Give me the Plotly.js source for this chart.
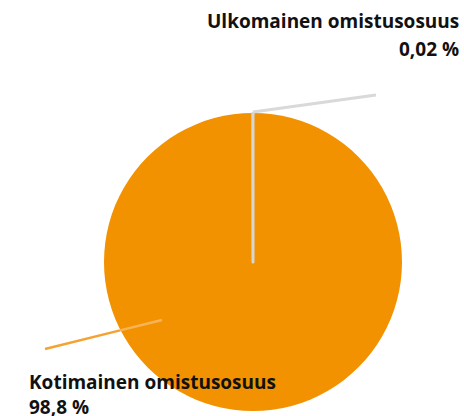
<!DOCTYPE html>
<html><head><meta charset="utf-8">
<script src="https://cdn.plot.ly/plotly-3.0.1.min.js"></script>
<style>html,body{margin:0;padding:0;background:#fff}#chart{width:464px;height:416px}</style>
</head><body><div id="chart"></div>
<script>
const categories = ['Kotimainen omistusosuus', 'Ulkomainen omistusosuus'];
const shares = [98.8, 0.02];
const valueLabels = ['98,8 %', '0,02 %'];
const sliceColors = ['#f39200', '#d9d9d9'];

const W = 464, H = 416;
const px = x => x / W, py = y => 1 - y / H;

const trace = {
  type: 'pie',
  labels: categories,
  values: shares,
  sort: false,
  direction: 'counterclockwise',
  rotation: 0,
  textinfo: 'none',
  hoverinfo: 'label+percent',
  marker: {colors: sliceColors, line: {color: ['rgba(0,0,0,0)', '#d6d6d6'], width: [0, 3]}},
  domain: {x: [px(104), px(402)], y: [py(411), py(113)]},
  showlegend: false
};

const font = {family: 'Open Sans, sans-serif', size: 19, color: '#111'};
const ann = (txt, x, y, anchor) => ({text: '<b>' + txt + '</b>', xref: 'paper', yref: 'paper',
  x: px(x), y: py(y), xanchor: anchor, yanchor: 'middle', showarrow: false, font: font});

const layout = {
  width: W, height: H,
  margin: {l: 0, r: 0, t: 0, b: 0},
  paper_bgcolor: '#fff',
  showlegend: false,
  annotations: [
    ann(categories[1], 461, 21, 'right'),
    ann(valueLabels[1], 461, 49, 'right'),
    ann(categories[0], 27, 382, 'left'),
    ann(valueLabels[0], 27, 407, 'left')
  ],
  shapes: [
    {type: 'line', xref: 'paper', yref: 'paper', x0: px(253), y0: py(112), x1: px(376), y1: py(95), line: {color: '#d9d9d9', width: 3}},
    {type: 'line', xref: 'paper', yref: 'paper', x0: px(120), y0: py(330.4), x1: px(45), y1: py(349), line: {color: '#f5a233', width: 2.5}},
    {type: 'line', xref: 'paper', yref: 'paper', x0: px(162), y0: py(320), x1: px(120), y1: py(330.4), line: {color: '#f7b35a', width: 2.5}}
  ]
};

Plotly.newPlot('chart', [trace], layout, {displayModeBar: false, staticPlot: true});
</script></body></html>
